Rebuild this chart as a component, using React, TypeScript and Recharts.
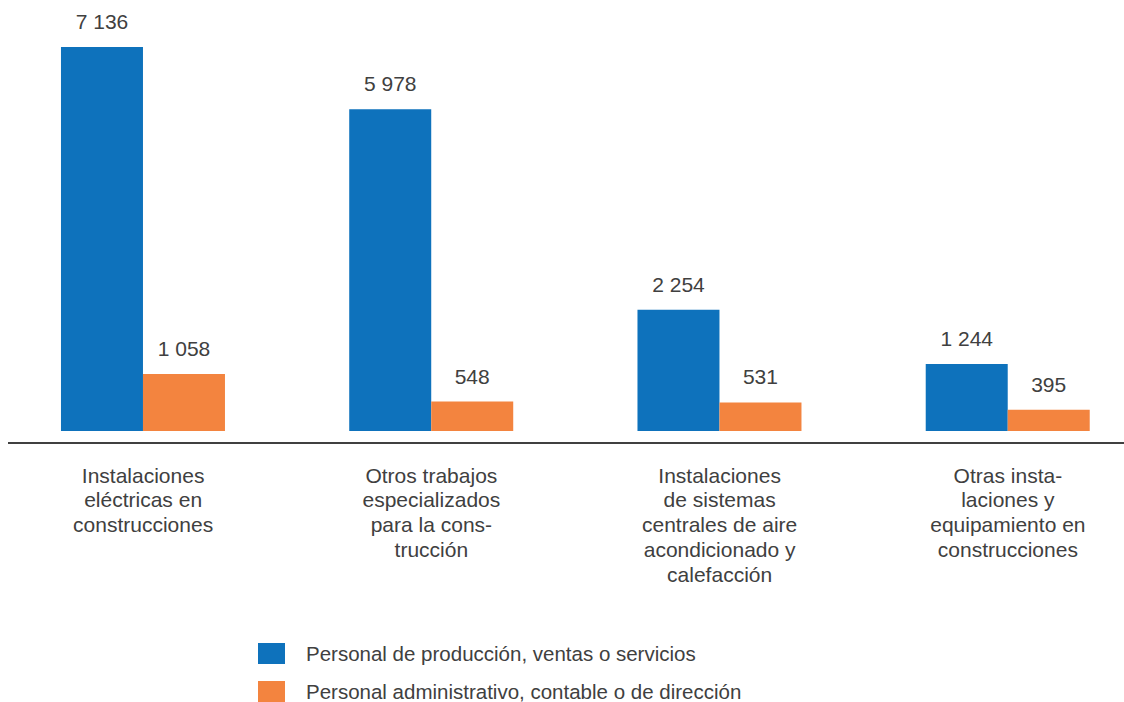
import { Bar, BarChart, LabelList, XAxis, YAxis } from "recharts";

const categoryLines: string[][] = [
  ["Instalaciones", "eléctricas en", "construcciones"],
  ["Otros trabajos", "especializados", "para la cons-", "trucción"],
  ["Instalaciones", "de sistemas", "centrales de aire", "acondicionado y", "calefacción"],
  ["Otras insta-", "laciones y", "equipamiento en", "construcciones"],
];
const produccion = [7136, 5978, 2254, 1244];
const administrativo = [1058, 548, 531, 395];

const seriesNames = [
  "Personal de producción, ventas o servicios",
  "Personal administrativo, contable o de dirección",
];
const seriesColors = ["#0e72bc", "#f3843f"];

const FONT = "'Liberation Sans', Arial, sans-serif";
const TEXT = "#404040";

const rows = categoryLines.map((lines, i) => ({
  name: lines.join(" "),
  produccion: produccion[i],
  administrativo: administrativo[i],
}));

// separador de miles con espacio: 7 136
function formatThousands(v: unknown): string {
  return String(v).replace(/\B(?=(\d{3})+(?!\d))/g, " ");
}

function CategoryTick(props: any) {
  const { x, y, index } = props;
  const lines = categoryLines[index] ?? [];
  return (
    <text
      x={x}
      y={y}
      textAnchor="middle"
      fill={TEXT}
      fontSize={21}
      fontFamily={FONT}
    >
      {lines.map((line, i) => (
        <tspan key={i} x={x} y={y + 51.7 + i * 24.75}>
          {line}
        </tspan>
      ))}
    </text>
  );
}

export default function App() {
  return (
    <div
      style={{
        position: "absolute",
        left: 0,
        top: 0,
        width: 1124,
        height: 702,
        overflow: "hidden",
        background: "#fff",
        fontFamily: FONT,
      }}
    >
      <div style={{ position: "absolute", left: -1, top: 0 }}>
        <BarChart
          width={1153}
          height={702}
          data={rows}
          margin={{ top: 47, right: 0, bottom: 241, left: 0 }}
          barCategoryGap="21.5%"
          barGap={0}
        >
          <XAxis
            dataKey="name"
            height={30}
            axisLine={false}
            tickLine={false}
            tickSize={0}
            tickMargin={0}
            interval={0}
            tick={<CategoryTick />}
          />
          <YAxis hide domain={[0, "dataMax"]} />
          <Bar dataKey="produccion" fill={seriesColors[0]} isAnimationActive={false}>
            <LabelList
              dataKey="produccion"
              position="top"
              offset={18}
              fill={TEXT}
              fontSize={21}
              fontFamily={FONT}
              formatter={formatThousands}
            />
          </Bar>
          <Bar dataKey="administrativo" fill={seriesColors[1]} isAnimationActive={false}>
            <LabelList
              dataKey="administrativo"
              position="top"
              offset={18}
              fill={TEXT}
              fontSize={21}
              fontFamily={FONT}
              formatter={formatThousands}
            />
          </Bar>
        </BarChart>
      </div>
      {/* línea del eje, separada de la base de las barras */}
      <div
        style={{
          position: "absolute",
          left: 8,
          top: 442,
          width: 1116,
          height: 2,
          background: TEXT,
        }}
      />
      <div style={{ position: "absolute", left: 258, top: 643 }}>
        {seriesNames.map((name, i) => (
          <div
            key={name}
            style={{
              display: "flex",
              alignItems: "center",
              height: 21,
              marginBottom: i === 0 ? 17 : 0,
            }}
          >
            <span
              style={{
                width: 27,
                height: 21,
                background: seriesColors[i],
                display: "inline-block",
              }}
            />
            <span
              style={{
                marginLeft: 21,
                fontSize: 20.5,
                lineHeight: "21px",
                color: TEXT,
                whiteSpace: "nowrap",
              }}
            >
              {name}
            </span>
          </div>
        ))}
      </div>
    </div>
  );
}
